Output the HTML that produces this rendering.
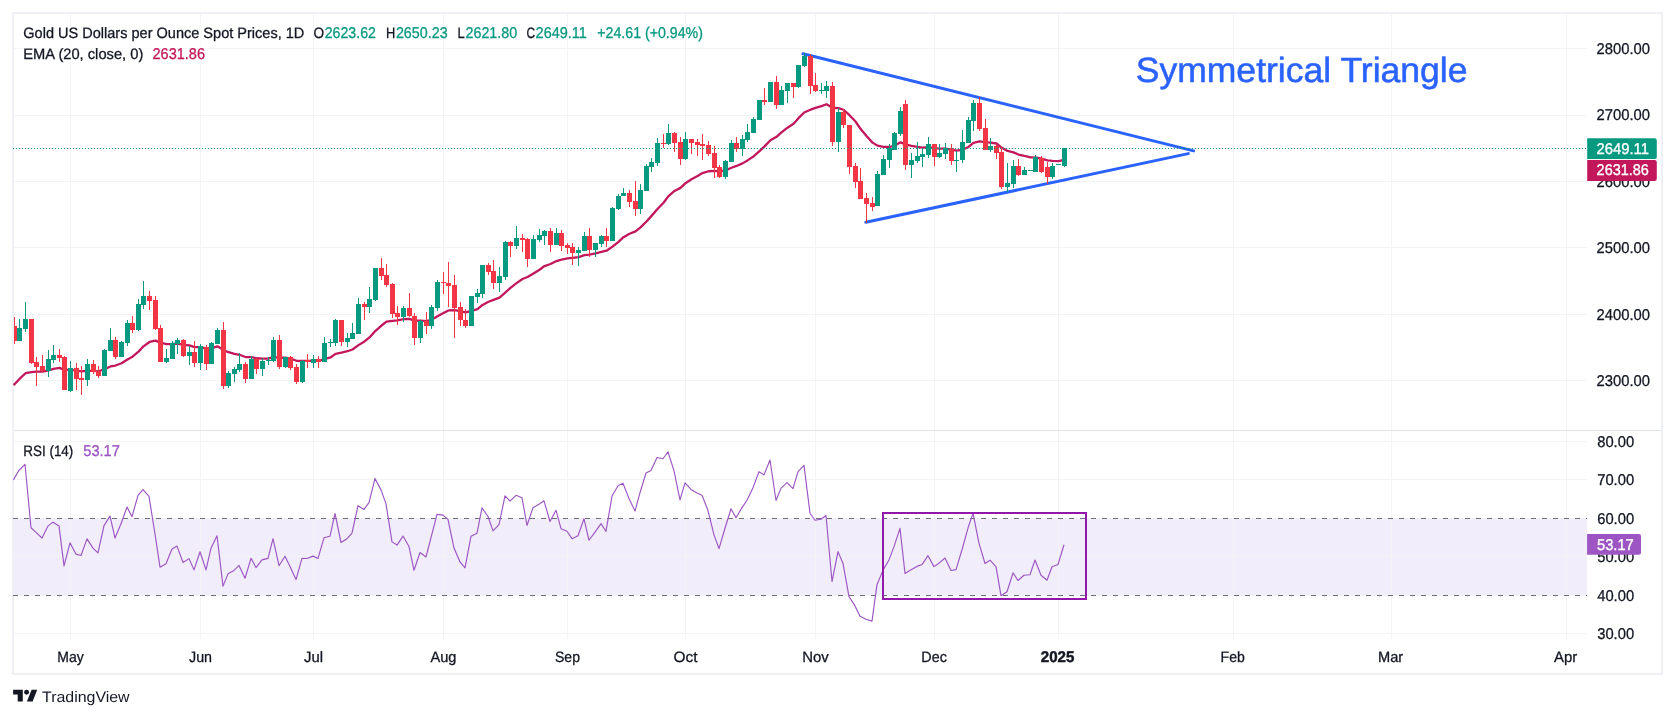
<!DOCTYPE html>
<html lang="en">
<head>
<meta charset="utf-8">
<title>Gold Spot Chart</title>
<style>html,body{margin:0;padding:0;background:#fff;}svg{display:block;}svg{will-change:transform;}</style>
</head>
<body>
<svg width="1675" height="718" viewBox="0 0 1675 718" font-family='"Liberation Sans", "DejaVu Sans", sans-serif' font-size="15" fill="#131722" text-rendering="geometricPrecision">
<rect width="1675" height="718" fill="#ffffff"/>
<rect x="14" y="518.5" width="1573" height="77.0" fill="#f1edfa"/>
<g stroke="#f2f3f4" stroke-width="1" fill="none">
<line x1="70.5" y1="14" x2="70.5" y2="639"/>
<line x1="200.5" y1="14" x2="200.5" y2="639"/>
<line x1="313.5" y1="14" x2="313.5" y2="639"/>
<line x1="443.5" y1="14" x2="443.5" y2="639"/>
<line x1="567.5" y1="14" x2="567.5" y2="639"/>
<line x1="685.5" y1="14" x2="685.5" y2="639"/>
<line x1="815.5" y1="14" x2="815.5" y2="639"/>
<line x1="934.5" y1="14" x2="934.5" y2="639"/>
<line x1="1058.5" y1="14" x2="1058.5" y2="639"/>
<line x1="1233.5" y1="14" x2="1233.5" y2="639"/>
<line x1="1391.5" y1="14" x2="1391.5" y2="639"/>
<line x1="1566.5" y1="14" x2="1566.5" y2="639"/>
<line x1="14" y1="48.5" x2="1587" y2="48.5"/>
<line x1="14" y1="115.5" x2="1587" y2="115.5"/>
<line x1="14" y1="181.5" x2="1587" y2="181.5"/>
<line x1="14" y1="247.5" x2="1587" y2="247.5"/>
<line x1="14" y1="314.5" x2="1587" y2="314.5"/>
<line x1="14" y1="380.5" x2="1587" y2="380.5"/>
<line x1="14" y1="441.5" x2="1587" y2="441.5"/>
<line x1="14" y1="479.5" x2="1587" y2="479.5"/>
<line x1="14" y1="518.5" x2="1587" y2="518.5"/>
<line x1="14" y1="556.5" x2="1587" y2="556.5"/>
<line x1="14" y1="595.5" x2="1587" y2="595.5"/>
<line x1="14" y1="633.5" x2="1587" y2="633.5"/>
</g>
<line x1="14" y1="430.5" x2="1661" y2="430.5" stroke="#e0e3ee" stroke-width="1.1"/>
<rect x="13" y="13" width="1649" height="661" fill="none" stroke="#eef0f5" stroke-width="2"/>
<g fill="#ffffff" fill-opacity="0.55"><rect x="17" y="25" width="289" height="20"/><rect x="17" y="45" width="191" height="20"/><rect x="17" y="443" width="106" height="20"/></g>
<g stroke="#2962ff" stroke-width="3.0" stroke-linecap="round">
<line x1="803" y1="53.8" x2="1193.6" y2="150.9"/>
<line x1="865.8" y1="222.3" x2="1188.3" y2="153.6"/>
</g>
<polyline points="13.5,385 14.50,384.30 19.50,378.94 25.50,373.23 31.50,372.22 36.50,371.66 42.50,371.60 48.50,370.40 53.50,368.93 59.50,367.85 64.50,369.96 70.50,369.78 76.50,370.60 81.50,371.45 87.50,370.74 93.50,370.83 98.50,371.28 104.50,369.25 110.50,366.47 115.50,365.51 121.50,363.27 127.50,359.44 132.50,356.63 138.50,351.62 143.50,346.32 149.50,341.97 155.50,340.69 160.50,342.67 166.50,344.13 172.50,344.02 177.50,343.64 183.50,344.78 189.50,345.46 194.50,347.10 200.50,347.03 206.50,348.61 211.50,348.07 217.50,346.35 223.50,350.07 228.50,352.22 234.50,353.82 239.50,354.79 245.50,357.03 251.50,357.18 256.50,358.27 262.50,358.53 268.50,358.63 273.50,356.86 279.50,357.77 285.50,357.69 290.50,358.62 296.50,360.79 302.50,360.85 307.50,360.92 313.50,360.77 318.50,360.83 324.50,359.13 330.50,357.46 335.50,353.86 341.50,352.67 347.50,351.24 352.50,349.46 358.50,345.13 364.50,341.46 369.50,337.42 375.50,330.81 381.50,325.53 386.50,321.63 392.50,320.87 397.50,320.44 403.50,319.22 409.50,318.91 414.50,320.67 420.50,320.74 426.50,321.19 431.50,319.83 437.50,316.23 443.50,313.03 448.50,310.42 454.50,310.15 460.50,311.09 465.50,312.45 471.50,310.88 477.50,309.18 482.50,304.97 488.50,301.77 493.50,299.93 499.50,297.65 505.50,292.31 510.50,287.84 516.50,283.10 522.50,278.95 527.50,277.02 533.50,273.40 539.50,269.74 544.50,266.05 550.50,264.01 556.50,261.05 561.50,259.58 567.50,258.42 572.50,257.85 578.50,257.10 584.50,255.09 589.50,254.57 595.50,253.47 601.50,251.80 606.50,250.74 612.50,246.67 618.50,241.84 623.50,237.19 629.50,233.78 635.50,231.36 640.50,227.42 646.50,221.54 651.50,215.87 657.50,208.93 663.50,202.70 668.50,196.07 674.50,190.97 680.50,187.89 685.50,183.20 691.50,179.31 697.50,175.99 702.50,173.09 708.50,171.24 714.50,170.89 719.50,171.43 725.50,170.40 731.50,167.79 736.50,165.95 742.50,163.38 747.50,160.39 753.50,156.45 759.50,151.07 764.50,146.36 770.50,140.23 776.50,136.84 781.50,132.38 787.50,127.67 793.50,123.74 798.50,118.15 804.50,112.23 810.50,109.69 815.50,107.88 821.50,106.13 826.50,104.22 832.50,107.76 838.50,108.16 843.50,109.73 849.50,115.18 855.50,121.49 860.50,128.81 866.50,135.92 872.50,142.63 877.50,145.62 883.50,146.89 889.50,147.00 894.50,145.66 900.50,142.32 905.50,144.43 911.50,145.91 917.50,146.87 922.50,147.55 928.50,147.25 934.50,148.12 939.50,148.59 945.50,148.53 951.50,149.66 956.50,150.61 962.50,149.79 968.50,146.95 973.50,142.76 979.50,141.42 985.50,142.18 990.50,142.54 996.50,143.50 1001.50,147.58 1007.50,150.96 1013.50,152.39 1018.50,154.51 1024.50,155.98 1030.50,157.28 1035.50,157.29 1041.50,158.65 1047.50,160.34 1052.50,160.88 1058.50,161.20 1064.50,159.96" fill="none" stroke="#c2185b" stroke-width="2.3" stroke-linejoin="round" stroke-linecap="butt"/>
<g id="candles">
<path d="M19 319h1V341h-1ZM25 302h1V332h-1ZM48 350h1V377h-1ZM53 345h1V363h-1ZM70 361h1V392h-1ZM87 359h1V386h-1ZM104 349h1V376h-1ZM110 328h1V351h-1ZM121 341h1V357h-1ZM127 320h1V346h-1ZM138 299h1V331h-1ZM143 281h1V309h-1ZM166 349h1V363h-1ZM172 341h1V359h-1ZM177 338h1V354h-1ZM189 346h1V365h-1ZM200 344h1V370h-1ZM211 342h1V364h-1ZM217 328h1V344h-1ZM228 371h1V388h-1ZM234 367h1V382h-1ZM239 353h1V372h-1ZM251 356h1V379h-1ZM262 358h1V376h-1ZM268 357h1V365h-1ZM273 337h1V362h-1ZM285 357h1V368h-1ZM302 360h1V383h-1ZM313 355h1V368h-1ZM324 337h1V362h-1ZM330 339h1V347h-1ZM335 319h1V346h-1ZM347 333h1V347h-1ZM352 323h1V339h-1ZM358 298h1V334h-1ZM369 287h1V313h-1ZM375 268h1V301h-1ZM403 306h1V322h-1ZM420 320h1V343h-1ZM431 305h1V329h-1ZM437 280h1V311h-1ZM471 296h1V326h-1ZM477 289h1V303h-1ZM482 265h1V298h-1ZM499 267h1V292h-1ZM505 241h1V280h-1ZM516 226h1V249h-1ZM533 235h1V259h-1ZM539 229h1V242h-1ZM544 230h1V245h-1ZM556 228h1V245h-1ZM578 247h1V266h-1ZM584 232h1V251h-1ZM595 243h1V257h-1ZM601 235h1V247h-1ZM612 207h1V241h-1ZM618 194h1V210h-1ZM623 188h1V196h-1ZM640 184h1V214h-1ZM646 164h1V191h-1ZM651 158h1V172h-1ZM657 138h1V166h-1ZM668 124h1V145h-1ZM685 132h1V160h-1ZM725 160h1V179h-1ZM731 140h1V162h-1ZM742 135h1V156h-1ZM747 124h1V142h-1ZM753 117h1V133h-1ZM759 100h1V120h-1ZM770 82h1V102h-1ZM781 86h1V105h-1ZM787 83h1V103h-1ZM798 65h1V88h-1ZM804 53h1V67h-1ZM821 83h1V94h-1ZM826 81h1V98h-1ZM838 108h1V152h-1ZM877 171h1V206h-1ZM883 155h1V175h-1ZM889 144h1V168h-1ZM894 132h1V150h-1ZM900 107h1V136h-1ZM911 153h1V178h-1ZM917 142h1V163h-1ZM922 148h1V167h-1ZM928 137h1V158h-1ZM939 144h1V158h-1ZM945 143h1V159h-1ZM956 151h1V172h-1ZM962 130h1V163h-1ZM968 117h1V143h-1ZM973 100h1V131h-1ZM990 138h1V152h-1ZM1007 163h1V192h-1ZM1013 160h1V188h-1ZM1024 167h1V175h-1ZM1030 170h1V171h-1ZM1035 155h1V172h-1ZM1052 163h1V179h-1ZM1058 164h1V165h-1ZM1064 148h1V167h-1ZM17 328H22V341H17ZM23 319H28V329H23ZM46 359H51V371H46ZM51 355H56V360H51ZM68 368H73V391H68ZM85 364H90V380H85ZM102 350H107V376H102ZM108 340H113V351H108ZM119 342H124V357H119ZM125 323H130V343H125ZM136 304H141V330H136ZM141 296H146V305H141ZM164 358H169V362H164ZM170 343H175V359H170ZM175 340H180V344H175ZM187 352H192V356H187ZM198 346H203V363H198ZM209 343H214V364H209ZM215 330H220V344H215ZM226 373H231V386H226ZM232 369H237V374H232ZM237 364H242V370H237ZM249 359H254V379H249ZM260 361H265V369H260ZM266 360H271V361H266ZM271 340H276V361H271ZM283 357H288V367H283ZM300 361H305V382H300ZM311 359H316V363H311ZM322 343H327V362H322ZM328 342H333V343H328ZM333 320H338V343H333ZM345 338H350V342H345ZM350 333H355V339H350ZM356 304H361V334H356ZM367 299H372V307H367ZM373 268H378V300H373ZM401 308H406V317H401ZM418 321H423V338H418ZM429 307H434V326H429ZM435 282H440V308H435ZM469 296H474V326H469ZM475 293H480V297H475ZM480 265H485V294H480ZM497 276H502V283H497ZM503 242H508V277H503ZM514 238H519V246H514ZM531 239H536V259H531ZM537 235H542V240H537ZM542 231H547V236H542ZM554 233H559V245H554ZM576 250H581V253H576ZM582 236H587V251H582ZM593 243H598V250H593ZM599 236H604V244H599ZM610 208H615V241H610ZM616 196H621V209H616ZM621 193H626V196H621ZM638 190H643V209H638ZM644 166H649V191H644ZM649 162H654V167H649ZM655 143H660V163H655ZM666 133H671V144H666ZM683 139H688V159H683ZM723 161H728V177H723ZM729 143H734V162H729ZM740 139H745V149H740ZM745 132H750V140H745ZM751 119H756V133H751ZM757 100H762V120H757ZM768 82H773V102H768ZM779 90H784V105H779ZM785 83H790V91H785ZM796 65H801V87H796ZM802 56H807V66H802ZM819 90H824V91H819ZM824 86H829V91H824ZM836 112H841V142H836ZM875 174H880V206H875ZM881 159H886V175H881ZM887 148H892V160H887ZM892 133H897V150H892ZM898 111H903V134H898ZM909 160H914V165H909ZM915 156H920V161H915ZM920 154H925V157H920ZM926 144H931V155H926ZM937 153H942V157H937ZM943 148H948V154H943ZM954 160H959V161H954ZM960 142H965V160H960ZM966 120H971V143H966ZM971 103H976V121H971ZM988 146H993V150H988ZM1005 183H1010V187H1005ZM1011 166H1016V184H1011ZM1022 170H1027V175H1022ZM1028 170H1033V171H1028ZM1033 157H1038V172H1033ZM1050 166H1055V177H1050ZM1056 164H1061V165H1056ZM1062 148H1067V166H1062Z" fill="#089981"/>
<path d="M14 317h1V344h-1ZM31 319h1V364h-1ZM36 357h1V386h-1ZM42 355h1V372h-1ZM59 349h1V362h-1ZM64 356h1V390h-1ZM76 363h1V390h-1ZM81 366h1V395h-1ZM93 360h1V374h-1ZM98 366h1V378h-1ZM115 337h1V359h-1ZM132 316h1V333h-1ZM149 291h1V310h-1ZM155 296h1V330h-1ZM160 325h1V362h-1ZM183 339h1V357h-1ZM194 341h1V367h-1ZM206 345h1V370h-1ZM223 322h1V389h-1ZM245 362h1V383h-1ZM256 358h1V374h-1ZM279 335h1V369h-1ZM290 356h1V370h-1ZM296 364h1V384h-1ZM307 354h1V368h-1ZM318 356h1V368h-1ZM341 320h1V346h-1ZM364 302h1V320h-1ZM381 258h1V280h-1ZM386 264h1V287h-1ZM392 283h1V318h-1ZM397 306h1V325h-1ZM409 293h1V317h-1ZM414 313h1V345h-1ZM426 312h1V334h-1ZM443 272h1V294h-1ZM448 262h1V307h-1ZM454 275h1V338h-1ZM460 302h1V326h-1ZM465 309h1V328h-1ZM488 263h1V275h-1ZM493 260h1V289h-1ZM510 241h1V257h-1ZM522 234h1V252h-1ZM527 238h1V267h-1ZM550 228h1V252h-1ZM561 230h1V251h-1ZM567 243h1V254h-1ZM572 243h1V265h-1ZM589 228h1V257h-1ZM606 228h1V247h-1ZM629 190h1V207h-1ZM635 181h1V216h-1ZM663 134h1V148h-1ZM674 132h1V152h-1ZM680 137h1V165h-1ZM691 139h1V154h-1ZM697 139h1V156h-1ZM702 134h1V160h-1ZM708 141h1V156h-1ZM714 146h1V178h-1ZM719 165h1V178h-1ZM736 137h1V152h-1ZM764 88h1V105h-1ZM776 76h1V109h-1ZM793 83h1V98h-1ZM810 54h1V94h-1ZM815 73h1V92h-1ZM832 82h1V146h-1ZM843 109h1V128h-1ZM849 125h1V174h-1ZM855 163h1V188h-1ZM860 168h1V199h-1ZM866 193h1V223h-1ZM872 197h1V211h-1ZM905 100h1V170h-1ZM934 144h1V166h-1ZM951 144h1V165h-1ZM979 97h1V131h-1ZM985 119h1V150h-1ZM996 144h1V159h-1ZM1001 147h1V189h-1ZM1018 159h1V176h-1ZM1041 156h1V173h-1ZM1047 162h1V184h-1ZM14 326H17V341H14ZM29 319H34V363H29ZM34 362H39V367H34ZM40 366H45V371H40ZM57 355H62V358H57ZM62 357H67V390H62ZM74 368H79V379H74ZM79 378H84V380H79ZM91 364H96V372H91ZM96 371H101V376H96ZM113 340H118V357H113ZM130 323H135V330H130ZM147 296H152V301H147ZM153 300H158V329H153ZM158 328H163V362H158ZM181 340H186V356H181ZM192 352H197V363H192ZM204 347H209V364H204ZM221 330H226V386H221ZM243 364H248V379H243ZM254 359H259V369H254ZM277 340H282V367H277ZM288 357H293V368H288ZM294 367H299V382H294ZM305 360H310V362H305ZM316 359H321V362H316ZM339 320H344V342H339ZM362 304H367V307H362ZM379 268H384V276H379ZM384 275H389V285H384ZM390 284H395V314H390ZM395 313H400V317H395ZM407 308H412V316H407ZM412 316H417V338H412ZM424 321H429V326H424ZM441 282H446V283H441ZM446 283H451V286H446ZM452 285H457V308H452ZM458 307H463V320H458ZM463 320H468V326H463ZM486 265H491V272H486ZM491 271H496V283H491ZM508 242H513V246H508ZM520 238H525V240H520ZM525 239H530V259H525ZM548 231H553V245H548ZM559 233H564V246H559ZM565 245H570V248H565ZM570 247H575V253H570ZM587 236H592V250H587ZM604 236H609V241H604ZM627 193H632V202H627ZM633 201H638V209H633ZM661 143H666V144H661ZM672 133H677V143H672ZM678 142H683V159H678ZM689 139H694V143H689ZM695 142H700V145H695ZM700 144H705V146H700ZM706 145H711V154H706ZM712 153H717V168H712ZM717 167H722V177H717ZM734 143H739V149H734ZM762 100H767V102H762ZM774 82H779V105H774ZM791 83H796V87H791ZM808 56H813V86H808ZM813 85H818V91H813ZM830 86H835V142H830ZM841 112H846V125H841ZM847 125H852V167H847ZM853 166H858V182H853ZM858 181H863V199H858ZM864 198H869V204H864ZM870 203H875V207H870ZM903 104H908V165H903ZM932 144H937V157H932ZM949 148H954V161H949ZM977 103H982V129H977ZM983 128H988V150H983ZM994 146H999V153H994ZM999 152H1004V187H999ZM1016 166H1021V175H1016ZM1039 158H1044V172H1039ZM1045 167H1050V177H1045Z" fill="#f23645"/>
</g>
<line x1="12.9" y1="148.5" x2="1587" y2="148.5" stroke="#089981" stroke-width="1.1" stroke-dasharray="1.2 1.8"/>
<text x="1135.7" y="81.7" font-size="35" fill="#2962ff" stroke="#2962ff" stroke-width="0.5" textLength="331.8" lengthAdjust="spacingAndGlyphs">Symmetrical Triangle</text>
<g stroke="#6c6f7a" stroke-width="1" stroke-dasharray="5 6" fill="none">
<line x1="13" y1="518.5" x2="1587" y2="518.5"/>
<line x1="13" y1="595.5" x2="1587" y2="595.5"/>
</g>
<polyline points="13.5,480.10 14.00,478.90 19.00,470.24 25.00,464.29 31.00,527.76 36.00,532.34 42.00,538.03 48.00,526.08 53.00,522.16 59.00,525.94 64.00,565.84 70.00,542.79 76.00,554.17 81.00,555.50 87.00,538.90 93.00,548.09 98.00,552.94 104.00,525.62 110.00,516.11 115.00,538.07 121.00,523.80 127.00,507.01 132.00,516.68 138.00,495.43 143.00,489.58 149.00,496.45 155.00,534.00 160.00,567.17 166.00,563.76 172.00,549.00 177.00,546.11 183.00,562.54 189.00,558.64 194.00,569.86 200.00,551.75 206.00,569.86 211.00,548.16 217.00,535.78 223.00,586.10 228.00,573.85 234.00,570.40 239.00,565.45 245.00,578.22 251.00,558.31 256.00,567.53 262.00,559.82 268.00,558.36 273.00,538.72 279.00,565.73 285.00,556.30 290.00,566.51 296.00,579.54 302.00,558.32 307.00,558.52 313.00,556.11 318.00,558.43 324.00,537.81 330.00,536.25 335.00,513.46 341.00,542.56 347.00,538.65 352.00,533.21 358.00,505.64 364.00,509.46 369.00,502.55 375.00,478.41 381.00,489.88 386.00,503.85 392.00,541.87 397.00,545.07 403.00,536.06 409.00,546.46 414.00,570.27 420.00,552.52 426.00,556.99 431.00,537.52 437.00,514.34 443.00,515.15 448.00,519.41 454.00,548.05 460.00,561.91 465.00,567.78 471.00,536.23 477.00,533.23 482.00,507.93 488.00,516.49 493.00,530.89 499.00,524.65 505.00,495.83 510.00,501.10 516.00,495.30 522.00,497.75 527.00,525.49 533.00,507.71 539.00,504.29 544.00,500.79 550.00,521.49 556.00,510.20 561.00,528.67 567.00,531.27 572.00,538.67 578.00,535.69 584.00,518.80 589.00,540.28 595.00,532.15 601.00,523.61 606.00,531.45 612.00,496.08 618.00,485.74 623.00,483.21 629.00,498.62 635.00,511.04 640.00,492.72 646.00,473.03 651.00,470.42 657.00,457.56 663.00,458.72 668.00,451.80 674.00,470.95 680.00,499.92 685.00,482.89 691.00,489.46 697.00,493.05 702.00,495.32 708.00,510.53 714.00,534.87 719.00,548.66 725.00,528.26 731.00,508.77 736.00,517.83 742.00,507.60 747.00,500.30 753.00,487.64 759.00,471.70 764.00,474.85 770.00,460.00 776.00,500.48 781.00,488.14 787.00,482.57 793.00,488.58 798.00,471.69 804.00,465.39 810.00,513.23 815.00,520.29 821.00,519.29 826.00,515.50 832.00,581.52 838.00,551.63 843.00,563.46 849.00,596.58 855.00,605.93 860.00,616.28 866.00,619.26 872.00,621.11 877.00,584.68 883.00,570.13 889.00,559.92 894.00,546.65 900.00,528.36 905.00,573.53 911.00,569.86 917.00,566.39 922.00,564.57 928.00,555.66 934.00,566.62 939.00,563.19 945.00,557.99 951.00,570.50 956.00,569.57 962.00,549.74 968.00,528.03 973.00,513.12 979.00,543.31 985.00,563.53 990.00,560.15 996.00,566.64 1001.00,595.70 1007.00,591.78 1013.00,572.80 1018.00,580.49 1024.00,575.21 1030.00,574.73 1035.00,560.05 1041.00,575.30 1047.00,580.25 1052.00,566.82 1058.00,564.50 1064.00,544.71" fill="none" stroke="#9c55c3" stroke-width="1.15" stroke-linejoin="round"/>
<rect x="883" y="513" width="203" height="86" fill="none" stroke="#9118a8" stroke-width="2"/>
<text x="1596.6" y="53.9" textLength="53.4" lengthAdjust="spacingAndGlyphs" font-size="15.6" stroke="#131722" stroke-width="0.3">2800.00</text>
<text x="1596.6" y="119.9" textLength="53.4" lengthAdjust="spacingAndGlyphs" font-size="15.6" stroke="#131722" stroke-width="0.3">2700.00</text>
<text x="1596.6" y="186.7" textLength="53.4" lengthAdjust="spacingAndGlyphs" font-size="15.6" stroke="#131722" stroke-width="0.3">2600.00</text>
<text x="1596.6" y="252.9" textLength="53.4" lengthAdjust="spacingAndGlyphs" font-size="15.6" stroke="#131722" stroke-width="0.3">2500.00</text>
<text x="1596.6" y="320.2" textLength="53.4" lengthAdjust="spacingAndGlyphs" font-size="15.6" stroke="#131722" stroke-width="0.3">2400.00</text>
<text x="1596.6" y="386.1" textLength="53.4" lengthAdjust="spacingAndGlyphs" font-size="15.6" stroke="#131722" stroke-width="0.3">2300.00</text>
<text x="1597.2" y="446.7" textLength="36.9" lengthAdjust="spacingAndGlyphs" font-size="15.6" stroke="#131722" stroke-width="0.3">80.00</text>
<text x="1597.2" y="484.9" textLength="36.9" lengthAdjust="spacingAndGlyphs" font-size="15.6" stroke="#131722" stroke-width="0.3">70.00</text>
<text x="1597.2" y="523.5" textLength="36.9" lengthAdjust="spacingAndGlyphs" font-size="15.6" stroke="#131722" stroke-width="0.3">60.00</text>
<text x="1597.2" y="562.0" textLength="36.9" lengthAdjust="spacingAndGlyphs" font-size="15.6" stroke="#131722" stroke-width="0.3">50.00</text>
<text x="1597.2" y="600.8" textLength="36.9" lengthAdjust="spacingAndGlyphs" font-size="15.6" stroke="#131722" stroke-width="0.3">40.00</text>
<text x="1597.2" y="639.0" textLength="36.9" lengthAdjust="spacingAndGlyphs" font-size="15.6" stroke="#131722" stroke-width="0.3">30.00</text>
<text x="70.5" y="662.2" textLength="26.5" lengthAdjust="spacingAndGlyphs" text-anchor="middle" stroke="#131722" stroke-width="0.3">May</text>
<text x="200.5" y="662.2" textLength="23" lengthAdjust="spacingAndGlyphs" text-anchor="middle" stroke="#131722" stroke-width="0.3">Jun</text>
<text x="313.5" y="662.2" textLength="19" lengthAdjust="spacingAndGlyphs" text-anchor="middle" stroke="#131722" stroke-width="0.3">Jul</text>
<text x="443.5" y="662.2" textLength="26" lengthAdjust="spacingAndGlyphs" text-anchor="middle" stroke="#131722" stroke-width="0.3">Aug</text>
<text x="567.5" y="662.2" textLength="25" lengthAdjust="spacingAndGlyphs" text-anchor="middle" stroke="#131722" stroke-width="0.3">Sep</text>
<text x="685.5" y="662.2" textLength="24" lengthAdjust="spacingAndGlyphs" text-anchor="middle" stroke="#131722" stroke-width="0.3">Oct</text>
<text x="815.5" y="662.2" textLength="26.5" lengthAdjust="spacingAndGlyphs" text-anchor="middle" stroke="#131722" stroke-width="0.3">Nov</text>
<text x="934.1" y="662.2" textLength="25.5" lengthAdjust="spacingAndGlyphs" text-anchor="middle" stroke="#131722" stroke-width="0.3">Dec</text>
<text x="1057.6" y="662.2" textLength="33.6" lengthAdjust="spacingAndGlyphs" text-anchor="middle" font-weight="bold" font-size="15.5" stroke="#131722" stroke-width="0.45">2025</text>
<text x="1232.7" y="662.2" textLength="24.2" lengthAdjust="spacingAndGlyphs" text-anchor="middle" stroke="#131722" stroke-width="0.3">Feb</text>
<text x="1390.6" y="662.2" textLength="25.2" lengthAdjust="spacingAndGlyphs" text-anchor="middle" stroke="#131722" stroke-width="0.3">Mar</text>
<text x="1565.6" y="662.2" textLength="23.2" lengthAdjust="spacingAndGlyphs" text-anchor="middle" stroke="#131722" stroke-width="0.3">Apr</text>
<path d="M1587.2 138.3H1654.6Q1656.8 138.3 1656.8 140.5V156.90000000000003Q1656.8 159.10000000000002 1654.6 159.10000000000002H1587.2Z" fill="#089981"/>
<text x="1596.6" y="154.0" fill="#ffffff" stroke="#ffffff" stroke-width="0.35" font-size="15.6" textLength="52.3" lengthAdjust="spacingAndGlyphs">2649.11</text>
<path d="M1587.2 160.0H1654.6Q1656.8 160.0 1656.8 162.2V178.70000000000002Q1656.8 180.9 1654.6 180.9H1587.2Z" fill="#c2185b"/>
<text x="1596.6" y="175.2" fill="#ffffff" stroke="#ffffff" stroke-width="0.35" font-size="15.6" textLength="52.3" lengthAdjust="spacingAndGlyphs">2631.86</text>
<path d="M1587.1 534.0H1638.8Q1641.0 534.0 1641.0 536.2V552.5Q1641.0 554.7 1638.8 554.7H1587.1Z" fill="#9c55c3"/>
<text x="1597.0" y="550.0" fill="#ffffff" stroke="#ffffff" stroke-width="0.35" font-size="15.6" textLength="36.8" lengthAdjust="spacingAndGlyphs">53.17</text>
<text x="23.3" y="38.4" textLength="281" lengthAdjust="spacingAndGlyphs" stroke="#131722" stroke-width="0.3">Gold US Dollars per Ounce Spot Prices, 1D</text>
<text x="313.6" y="38.4" textLength="10.6" lengthAdjust="spacingAndGlyphs" stroke="#131722" stroke-width="0.3">O</text>
<text x="324.7" y="38.4" textLength="51.2" lengthAdjust="spacingAndGlyphs" fill="#089981" font-size="15.6" stroke="#089981" stroke-width="0.3">2623.62</text>
<text x="385.9" y="38.4" textLength="9.3" lengthAdjust="spacingAndGlyphs" stroke="#131722" stroke-width="0.3">H</text>
<text x="395.9" y="38.4" textLength="51.7" lengthAdjust="spacingAndGlyphs" fill="#089981" font-size="15.6" stroke="#089981" stroke-width="0.3">2650.23</text>
<text x="457.6" y="38.4" textLength="7.2" lengthAdjust="spacingAndGlyphs" stroke="#131722" stroke-width="0.3">L</text>
<text x="465.5" y="38.4" textLength="51.7" lengthAdjust="spacingAndGlyphs" fill="#089981" font-size="15.6" stroke="#089981" stroke-width="0.3">2621.80</text>
<text x="526.4" y="38.4" textLength="8.6" lengthAdjust="spacingAndGlyphs" stroke="#131722" stroke-width="0.3">C</text>
<text x="535.6" y="38.4" textLength="51.2" lengthAdjust="spacingAndGlyphs" fill="#089981" font-size="15.6" stroke="#089981" stroke-width="0.3">2649.11</text>
<text x="597.3" y="38.4" textLength="105.6" lengthAdjust="spacingAndGlyphs" fill="#089981" font-size="15.6" stroke="#089981" stroke-width="0.3">+24.61 (+0.94%)</text>
<text x="23.3" y="58.5" textLength="120" lengthAdjust="spacingAndGlyphs" stroke="#131722" stroke-width="0.3">EMA (20, close, 0)</text>
<text x="152.5" y="58.5" textLength="52.5" lengthAdjust="spacingAndGlyphs" fill="#c2185b" font-size="15.6" stroke="#c2185b" stroke-width="0.3">2631.86</text>
<text x="23.3" y="455.6" textLength="50" lengthAdjust="spacingAndGlyphs" stroke="#131722" stroke-width="0.3">RSI (14)</text>
<text x="83.3" y="455.6" textLength="36.5" lengthAdjust="spacingAndGlyphs" fill="#9c55c3" font-size="15.6" stroke="#9c55c3" stroke-width="0.3">53.17</text>
<g fill="#131722">
<path d="M13.1 689.7H22.8V701.6H17.7V694.6H13.1Z"/>
<circle cx="26.6" cy="692.2" r="2.45"/>
<path d="M31.6 689.7H37.2L32.6 701.6H26.9Z"/>
</g>
<text x="42.0" y="701.5" font-size="15.1" textLength="87.6" lengthAdjust="spacingAndGlyphs">TradingView</text>
</svg>
</body>
</html>
